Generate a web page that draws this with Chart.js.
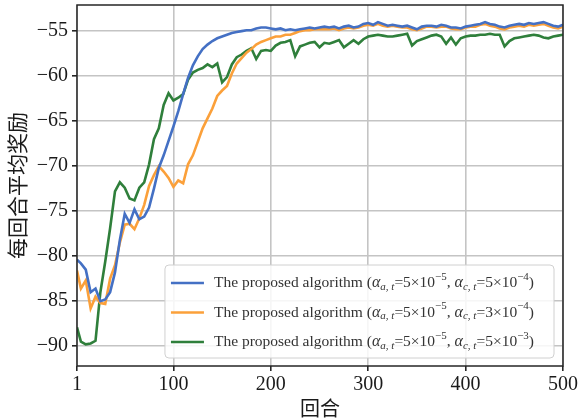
<!DOCTYPE html>
<html>
<head>
<meta charset="utf-8">
<script src="https://cdn.jsdelivr.net/npm/chart.js@4.4.1/dist/chart.umd.min.js"></script>
<style>
  html, body { margin: 0; padding: 0; background: #fff; }
</style>
</head>
<body>
<canvas id="rewardChart" width="580" height="420"></canvas>
<script>
const episodes = [
  1, 5, 10, 15, 20, 25, 30, 35, 40, 45,
  50, 55, 60, 65, 70, 75, 80, 85, 90, 95,
  100, 105, 110, 115, 120, 125, 130, 135, 140, 145,
  150, 155, 160, 165, 170, 175, 180, 185, 190, 195,
  200, 205, 210, 215, 220, 225, 230, 235, 240, 245,
  250, 255, 260, 265, 270, 275, 280, 285, 290, 295,
  300, 305, 310, 315, 320, 325, 330, 335, 340, 345,
  350, 355, 360, 365, 370, 375, 380, 385, 390, 395,
  400, 405, 410, 415, 420, 425, 430, 435, 440, 445,
  450, 455, 460, 465, 470, 475, 480, 485, 490, 495,
  500
];

// alpha_c = 5e-4
const rewardBlue = [
  -80.4, -80.8, -81.5, -84.0, -83.6, -85.0, -84.8, -84.0, -81.8, -78.2,
  -75.3, -76.3, -74.8, -75.9, -75.6, -74.6, -72.5, -70.2, -68.8, -67.2,
  -65.6, -63.9, -62.0, -60.2, -58.8, -57.8, -57.0, -56.5, -56.1, -55.8,
  -55.6, -55.4, -55.2, -55.1, -55.0, -54.9, -54.9, -54.7, -54.6, -54.6,
  -54.7, -54.8, -54.7, -54.9, -54.8, -54.9, -54.8, -54.7, -54.6, -54.7,
  -54.6, -54.5, -54.6, -54.5, -54.7, -54.5, -54.4, -54.6, -54.5, -54.2,
  -54.1, -54.3, -54.0, -54.2, -54.4, -54.3, -54.4, -54.5, -54.4, -54.6,
  -54.8, -54.5, -54.4, -54.4, -54.5, -54.3, -54.4, -54.6, -54.6, -54.7,
  -54.5, -54.4, -54.3, -54.2, -54.0, -54.2, -54.3, -54.5, -54.6, -54.4,
  -54.3, -54.2, -54.3, -54.1, -54.2, -54.1, -54.0, -54.2, -54.4, -54.5,
  -54.3
];

// alpha_c = 3e-4
const rewardOrange = [
  -81.6, -83.6, -82.7, -85.8, -84.5, -85.2, -85.3, -82.5, -81.0, -78.5,
  -76.5, -76.4, -77.0, -75.8, -74.3, -72.2, -71.0, -70.0, -70.6, -71.3,
  -72.3, -71.6, -71.9, -69.8, -68.8, -67.3, -65.8, -64.7, -63.6, -62.2,
  -61.6, -61.1, -59.7, -58.6, -58.0, -57.4, -57.0, -56.5, -56.2, -56.0,
  -55.8, -55.6, -55.6, -55.4, -55.4, -55.2, -55.0, -54.9, -54.9, -54.8,
  -54.8, -54.8, -54.8, -54.7, -54.9, -54.7, -54.6, -54.7, -54.6, -54.4,
  -54.3, -54.4, -54.2, -54.4, -54.5, -54.4, -54.5, -54.6, -54.6, -54.8,
  -54.9, -54.7, -54.5, -54.5, -54.6, -54.5, -54.5, -54.7, -54.8, -54.8,
  -54.6, -54.5, -54.5, -54.3, -54.2, -54.4, -54.5, -54.7, -54.8, -54.6,
  -54.5, -54.4, -54.5, -54.3, -54.4, -54.3, -54.2, -54.4, -54.6, -54.7,
  -54.5
];

// alpha_c = 5e-3
const rewardGreen = [
  -87.9, -89.5, -89.8, -89.7, -89.4, -84.0, -80.6, -76.9, -72.8, -71.8,
  -72.4, -73.6, -73.8, -72.4, -71.8, -69.8, -67.0, -65.8, -63.2, -61.9,
  -62.7, -62.4, -62.0, -60.4, -59.6, -59.3, -59.1, -58.7, -59.0, -58.6,
  -60.7, -60.1, -58.7, -57.9, -57.6, -57.2, -56.9, -58.1, -57.2, -57.1,
  -57.2, -56.6, -56.3, -56.2, -56.0, -57.8, -56.7, -56.5, -56.3, -56.2,
  -56.8, -56.3, -56.4, -56.2, -56.0, -56.8, -56.4, -56.0, -56.4, -55.9,
  -55.6, -55.5, -55.4, -55.5, -55.6, -55.6, -55.5, -55.4, -55.3, -56.6,
  -56.1, -55.9, -55.7, -55.5, -55.4, -55.6, -56.4, -55.7, -56.5, -55.8,
  -55.6, -55.5, -55.5, -55.4, -55.4, -55.3, -55.4, -55.4, -56.7, -56.1,
  -55.8, -55.7, -55.6, -55.5, -55.4, -55.5, -55.7, -55.8, -55.6, -55.5,
  -55.4
];

const seriesLabels = [
  "The proposed algorithm (α_{a, t}=5×10^{−5}, α_{c, t}=5×10^{−4})",
  "The proposed algorithm (α_{a, t}=5×10^{−5}, α_{c, t}=3×10^{−4})",
  "The proposed algorithm (α_{a, t}=5×10^{−5}, α_{c, t}=5×10^{−3})"
];
const xTicks = [1, 100, 200, 300, 400, 500];
const yTicks = [-90, -85, -80, -75, -70, -65, -60, -55];

const COLORS = {
  blue: "#4470c4",
  orange: "#fba03a",
  green: "#2f7f3b",
  grid: "#c4c4c4",
  frame: "#262626",
  text: "#1a1a1a"
};
const SERIF = '"Liberation Serif", "DejaVu Serif", serif';
const CJK = '"Noto Sans CJK SC", sans-serif';

function toPoints(ys) {
  return episodes.map((x, i) => ({ x: x, y: ys[i] }));
}

// split "α_{a, t}" / "10^{−5}" into styled runs
function parseRich(str) {
  const parts = [];
  let buf = "";
  let i = 0;
  while (i < str.length) {
    const c = str[i];
    if ((c === "_" || c === "^") && str[i + 1] === "{") {
      if (buf) { parts.push({ t: buf, m: "n" }); buf = ""; }
      const end = str.indexOf("}", i);
      parts.push({ t: str.slice(i + 2, end), m: c === "_" ? "sub" : "sup" });
      i = end + 1;
    } else {
      buf += c;
      i++;
    }
  }
  if (buf) parts.push({ t: buf, m: "n" });
  const out = [];
  parts.forEach(p => {
    if (p.m !== "n") { out.push(p); return; }
    p.t.split(/(α)/).filter(Boolean).forEach(s => out.push({ t: s, m: s === "α" ? "it" : "n" }));
  });
  return out;
}

const runFont = {
  n: "15.5px " + SERIF,
  it: "italic 16px " + SERIF,
  sub: "italic 11px " + SERIF,
  sup: "11px " + SERIF
};
const runShift = { n: 0, it: 0, sub: 4, sup: -6 };

function richWidth(ctx, runs) {
  let w = 0;
  runs.forEach(r => { ctx.font = runFont[r.m]; w += ctx.measureText(r.t).width; });
  return w;
}

const framePlugin = {
  id: "frame",
  afterDatasetsDraw(chart) {
    const { ctx, chartArea: a } = chart;
    ctx.save();
    ctx.strokeStyle = COLORS.frame;
    ctx.lineWidth = 1.5;
    ctx.strokeRect(a.left, a.top, a.right - a.left, a.bottom - a.top);
    ctx.restore();
  }
};

const insideLegend = {
  id: "insideLegend",
  afterDraw(chart) {
    const { ctx, chartArea: a } = chart;
    const rows = chart.data.datasets.map(ds => ({ runs: parseRich(ds.label), color: ds.borderColor }));
    ctx.save();
    const textW = Math.max(...rows.map(r => richWidth(ctx, r.runs)));
    const boxW = 49 + textW + 20;
    const boxH = 93;
    const right = a.right - 9;
    const bottom = a.bottom - 8;
    const left = right - boxW;
    const top = bottom - boxH;

    ctx.beginPath();
    ctx.roundRect(left, top, boxW, boxH, 4);
    ctx.fillStyle = "rgba(255,255,255,0.85)";
    ctx.fill();
    ctx.strokeStyle = "#d0d0d0";
    ctx.lineWidth = 1;
    ctx.stroke();

    rows.forEach((row, i) => {
      const y = top + 18 + i * 29.5;
      ctx.strokeStyle = row.color;
      ctx.lineWidth = 2.5;
      ctx.beginPath();
      ctx.moveTo(left + 6, y);
      ctx.lineTo(left + 39, y);
      ctx.stroke();

      let x = left + 49;
      ctx.fillStyle = "#333";
      ctx.textBaseline = "middle";
      ctx.textAlign = "left";
      row.runs.forEach(r => {
        ctx.font = runFont[r.m];
        ctx.fillText(r.t, x, y + runShift[r.m]);
        x += ctx.measureText(r.t).width;
      });
    });
    ctx.restore();
  }
};

new Chart(document.getElementById("rewardChart"), {
  type: "line",
  data: {
    datasets: [
      { label: seriesLabels[0], data: toPoints(rewardBlue), borderColor: COLORS.blue },
      { label: seriesLabels[1], data: toPoints(rewardOrange), borderColor: COLORS.orange },
      { label: seriesLabels[2], data: toPoints(rewardGreen), borderColor: COLORS.green }
    ]
  },
  options: {
    responsive: false,
    animation: false,
    devicePixelRatio: 1,
    layout: { padding: { top: 5, right: 17, left: 0, bottom: 0 } },
    elements: {
      line: { borderWidth: 2.6, tension: 0, fill: false },
      point: { radius: 0 }
    },
    plugins: {
      legend: { display: false },
      tooltip: { enabled: false }
    },
    scales: {
      x: {
        type: "linear",
        min: 1,
        max: 500,
        afterBuildTicks: s => { s.ticks = xTicks.map(v => ({ value: v })); },
        afterFit: s => { s.height = 54; },
        grid: { color: COLORS.grid, lineWidth: 1.6, tickLength: 5, tickColor: COLORS.frame },
        border: { display: false },
        ticks: {
          color: COLORS.text,
          font: { family: SERIF, size: 20 },
          padding: 2,
          maxRotation: 0
        },
        title: {
          display: true,
          text: "回合",
          color: COLORS.text,
          font: { family: CJK, size: 20 },
          padding: { top: 2, bottom: 0 }
        }
      },
      y: {
        min: -92.2,
        max: -52.1,
        afterBuildTicks: s => { s.ticks = yTicks.map(v => ({ value: v })); },
        afterFit: s => { s.width = 77; s.paddingTop = 0; s.paddingBottom = 0; },
        grid: { color: COLORS.grid, lineWidth: 1.6, tickLength: 5, tickColor: COLORS.frame },
        border: { display: false },
        ticks: {
          color: COLORS.text,
          font: { family: SERIF, size: 20 },
          padding: 4,
          callback: v => String(v).replace("-", "−")
        },
        title: {
          display: true,
          text: "每回合平均奖励",
          color: COLORS.text,
          font: { family: CJK, size: 21 },
          padding: { top: 4.5, bottom: 0 }
        }
      }
    }
  },
  plugins: [framePlugin, insideLegend]
});
</script>
</body>
</html>
